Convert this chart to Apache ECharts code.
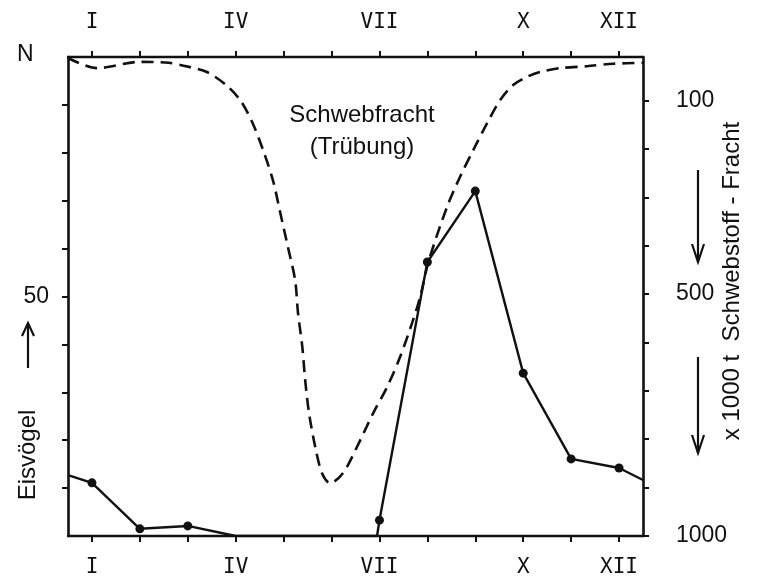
<!DOCTYPE html>
<html>
<head>
<meta charset="utf-8">
<script src="https://cdn.jsdelivr.net/npm/echarts@6/dist/echarts.min.js"></script>
<style>
  html, body { margin: 0; padding: 0; background: #fff; }
  #main { width: 764px; height: 579px; }
</style>
</head>
<body>
<div id="main"></div>
<script>
// Monatsachse (römische Ziffern), Position = Monatsmitte
const monthNames = ['I', 'II', 'III', 'IV', 'V', 'VI', 'VII', 'VIII', 'IX', 'X', 'XI', 'XII'];
const monthTicks = [1, 2, 3, 4, 5, 6, 7, 8, 9, 10, 11, 12];
const monthLabelTicks = [1, 4, 7, 10, 12];

// Eisvögel (N), linke Achse
const birdMonths = [0.5, 1, 2, 3, 4, 5, 6, 6.95, 7, 8, 9, 10, 11, 12, 12.5];
const birdCounts = [12.7, 11.1, 1.5, 2.1, 0, 0, 0, 0, 3.3, 57.2, 72, 34, 16.1, 14.2, 11.7];

// Schwebstoff-Fracht (x 1000 t), rechte Achse, umgekehrt
const loadMonths = [0.5, 1.1, 2.0, 2.6, 3.05, 3.4, 3.8, 4.1, 4.35, 4.57, 4.78, 4.93, 5.09, 5.24, 5.3, 5.39, 5.45, 5.53, 5.66,
    5.8, 5.97, 6.24, 6.53, 6.87, 7.16, 7.43, 7.68, 7.85, 8.02, 8.41, 8.68, 8.96, 9.25, 9.52, 9.79, 10.08, 10.35, 10.77, 11.33, 11.88, 12.5];
const loadValues = [12, 33, 20, 22, 31, 41, 68, 100, 146, 202, 266, 332, 403, 471, 539, 609, 678, 746, 816,
    870, 891, 870, 816, 746, 692, 630, 560, 506, 434, 320, 258, 202, 146, 99, 68, 51, 41, 33, 29, 24, 22];

const leftTicks = [10, 20, 30, 40, 50, 60, 70, 80, 90];
const leftLabels = [50];
const rightTicks = [100, 200, 300, 400, 500, 600, 700, 800, 900, 1000];
const rightLabels = [100, 500, 1000];

let ink = '#111';
let sans = 'Liberation Sans';

let birdData = birdMonths.map(function(m, i) { return [m, birdCounts[i]]; });
let loadData = loadMonths.map(function(m, i) { return [m, loadValues[i]]; });

let monthAxis = function(pos) {
    return {
        type: 'value',
        position: pos,
        min: 0.5,
        max: 12.5,
        splitLine: { show: false },
        axisLine: { show: true, onZero: false, lineStyle: { color: ink, width: 2.4 } },
        axisTick: { show: true, inside: false, length: 6, customValues: monthTicks, lineStyle: { color: ink, width: 2 } },
        axisLabel: {
            customValues: monthLabelTicks,
            margin: pos === 'top' ? 24 : 21,
            color: ink,
            fontFamily: 'DejaVu Sans Mono',
            fontSize: 21,
            formatter: function(v) { return monthNames[Math.round(v) - 1]; }
        }
    };
};

let arrow = function(x, y1, y2, up) {
    let tip = up ? y1 : y2;
    let base = up ? tip + 13 : tip - 18;
    return [
        { type: 'line', shape: { x1: x, y1: y1, x2: x, y2: y2 }, style: { stroke: ink, lineWidth: 2.2 } },
        { type: 'polyline', shape: { points: [[x - 6, base], [x, tip], [x + 6, base]] }, style: { stroke: ink, lineWidth: 2.2, fill: null } }
    ];
};

let myChart = echarts.init(document.getElementById('main'), null, { renderer: 'canvas' });

let options = {
    backgroundColor: '#fff',
    animation: false,
    grid: { left: 68, right: 121, top: 57, bottom: 43 },
    xAxis: [monthAxis('bottom'), monthAxis('top')],
    yAxis: [
        {
            type: 'value',
            position: 'left',
            min: 0,
            max: 100,
            splitLine: { show: false },
            axisLine: { show: true, lineStyle: { color: ink, width: 2.6 } },
            axisTick: { show: true, length: 6, customValues: leftTicks, lineStyle: { color: ink, width: 2 } },
            axisLabel: { customValues: leftLabels, margin: 19, color: ink, fontFamily: sans, fontSize: 23 }
        },
        {
            type: 'value',
            position: 'right',
            inverse: true,
            min: 10,
            max: 1000,
            splitLine: { show: false },
            axisLine: { show: true, lineStyle: { color: ink, width: 2.6 } },
            axisTick: { show: true, length: 6, customValues: rightTicks, lineStyle: { color: ink, width: 2 } },
            axisLabel: {
                customValues: rightLabels,
                margin: 33,
                color: ink,
                fontFamily: sans,
                fontSize: 23,
                formatter: function(v) { return String(v); }
            }
        }
    ],
    series: [
        {
            name: 'Schwebfracht',
            type: 'line',
            xAxisIndex: 0,
            yAxisIndex: 1,
            smooth: 0.3,
            showSymbol: false,
            symbol: 'none',
            lineStyle: { color: ink, width: 2.6, type: [12, 7] },
            data: loadData
        },
        {
            name: 'Eisvögel',
            type: 'line',
            xAxisIndex: 0,
            yAxisIndex: 0,
            symbol: 'circle',
            symbolSize: function(val) {
                let isMonth = Math.abs(val[0] - Math.round(val[0])) < 0.01;
                return (isMonth && val[1] > 0) ? 9 : 0;
            },
            itemStyle: { color: ink },
            lineStyle: { color: ink, width: 2.4 },
            data: birdData
        }
    ],
    graphic: [
        { type: 'text', left: 17, top: 43, style: { text: 'N', fill: ink, font: '23px ' + sans } },
        { type: 'text', x: 362, y: 115, style: { text: 'Schwebfracht', fill: ink, font: '24px ' + sans, align: 'center', verticalAlign: 'middle' } },
        { type: 'text', x: 362, y: 147, style: { text: '(Trübung)', fill: ink, font: '24px ' + sans, align: 'center', verticalAlign: 'middle' } },
        { type: 'text', x: 28, y: 455, rotation: Math.PI / 2, style: { text: 'Eisvögel', fill: ink, font: '24px ' + sans, align: 'center', verticalAlign: 'middle' } },
        { type: 'text', x: 732, y: 281, rotation: Math.PI / 2, style: { text: 'x 1000 t  Schwebstoff - Fracht', fill: ink, font: '24px ' + sans, align: 'center', verticalAlign: 'middle' } }
    ].concat(arrow(28, 323, 368, true), arrow(698, 170, 262, false), arrow(698, 357, 453, false))
};

myChart.setOption(options);
</script>
</body>
</html>
